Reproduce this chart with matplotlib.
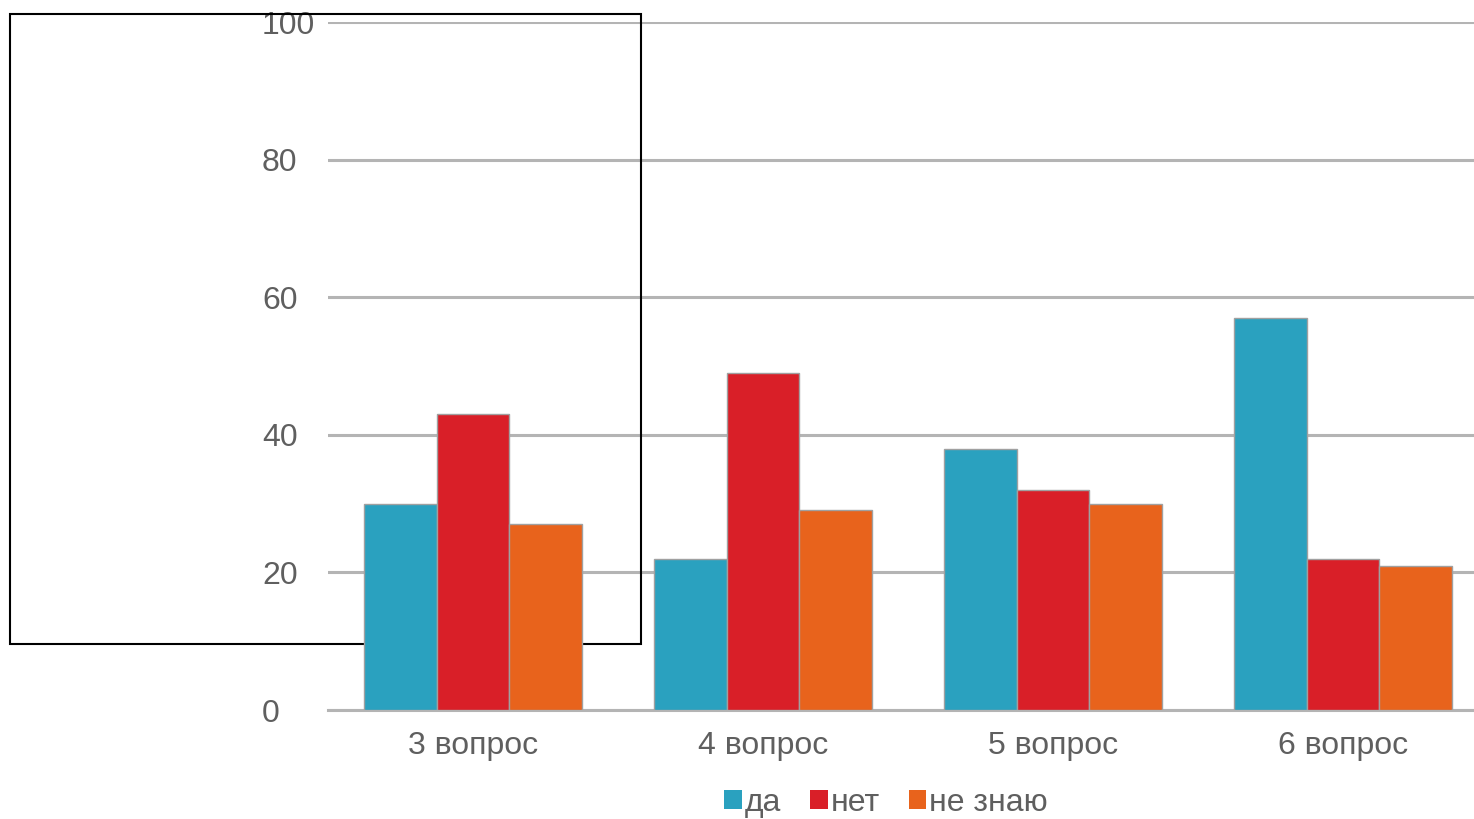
import matplotlib
matplotlib.use("Agg")
import matplotlib.pyplot as plt
import numpy as np
from matplotlib.patches import Rectangle

categories = ["3 вопрос", "4 вопрос", "5 вопрос", "6 вопрос"]
series_names = ["да", "нет", "не знаю"]
da = [30, 22, 38, 57]
net = [43, 49, 32, 22]
ne_znayu = [27, 29, 30, 21]
y_ticks = [0, 20, 40, 60, 80, 100]
colors = ["#2aa1bf", "#d91f28", "#e8631c"]

plt.rcParams['font.family'] = ['Liberation Sans', 'DejaVu Sans']

W, H = 1474, 819
fig = plt.figure(figsize=(W / 100, H / 100), dpi=100)
ax = fig.add_axes([328 / W, 109 / H, 1160 / W, 688 / H])
ax.set_facecolor('none')

x = np.arange(len(categories))
bw = 0.25
for i, (vals, name) in enumerate(zip([da, net, ne_znayu], series_names)):
    ax.bar(x + (i - 1) * bw, vals, width=bw, color=colors[i], edgecolor="#a0a0a0",
           linewidth=1.0, label=name, zorder=3)

ax.set_xlim(-0.5, len(categories) - 0.5)
ax.set_ylim(0, 100)
ax.set_yticks(y_ticks)
ax.set_yticklabels([str(v) for v in y_ticks])
ax.set_xticks(x)
ax.set_xticklabels(categories)
ax.grid(axis='y', color='#b4b4b4', linewidth=2.2, zorder=0)
ax.axhline(0, color='#b4b4b4', linewidth=2.2, zorder=0.5, clip_on=False)
ax.set_axisbelow(True)
for s in ax.spines.values():
    s.set_visible(False)
ax.tick_params(axis='both', length=0, labelsize=23, labelcolor='#5f5f5f')
ax.tick_params(axis='y', pad=47.5)
ax.tick_params(axis='x', pad=15)
for lab in ax.get_yticklabels():
    lab.set_horizontalalignment('left')

# black rectangle overlay
rect = Rectangle((10 / W, (H - 644) / H), 631 / W, 630 / H, transform=fig.transFigure,
                 fill=False, edgecolor='black', linewidth=1.5, zorder=2, clip_on=False)
ax.add_patch(rect)

leg = fig.legend(loc='center', bbox_to_anchor=(886 / W, (H - 803) / H), ncol=3,
                 frameon=False, fontsize=23, handlelength=0.55, handleheight=0.55,
                 handletextpad=0.08, columnspacing=0.92, labelcolor='#5f5f5f',
                 borderpad=0.1)
for h in leg.legend_handles:
    h.set_edgecolor('none')

fig.savefig("out.png", dpi=100)
